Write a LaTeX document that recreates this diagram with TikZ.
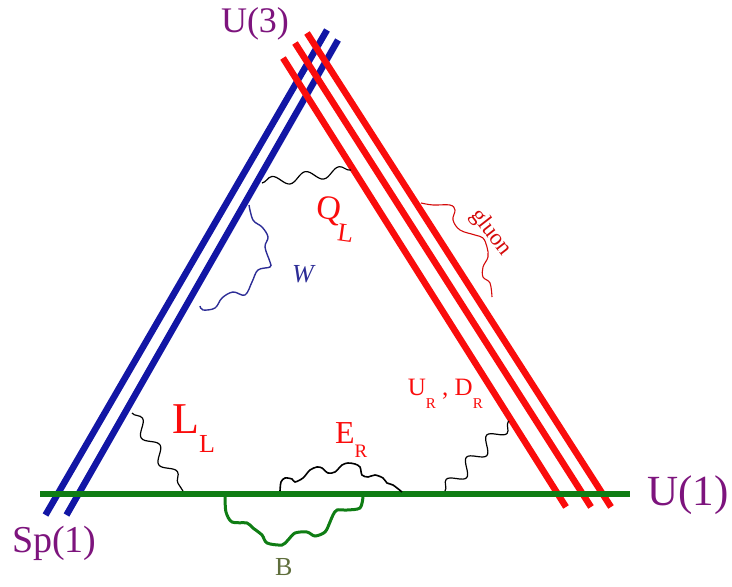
\documentclass[tikz,border=0pt]{standalone}
\usepackage{fontspec}
\setmainfont{Liberation Serif}
\usetikzlibrary{decorations.pathmorphing, calc}
\definecolor{braneblue}{RGB}{18, 22, 165}
\definecolor{branered}{RGB}{250, 12, 12}
\definecolor{branegreen}{RGB}{15, 125, 20}
\definecolor{grouppurple}{RGB}{125, 20, 125}
\definecolor{bolive}{RGB}{95, 110, 60}
\definecolor{wblue}{RGB}{45, 45, 150}
\newcommand{\fs}[1]{\fontsize{#1}{#1}\selectfont}
\newcommand{\lowsub}[3]{\raisebox{-#1pt}{\fs{#2}#3}}

\begin{document}
\begin{tikzpicture}[x=1pt, y=-1pt,
    brane/.style={line width=6.5pt},
    string/.style={black, line width=1.2pt, decorate,
      decoration={snake, amplitude=5pt, segment length=34pt}},
    lab/.style={inner sep=0pt}]
  \useasboundingbox (0,0) rectangle (732,587);
  % brane ends
  \coordinate (b1s) at (45.5,515); \coordinate (b1e) at (327,30);
  \coordinate (b2s) at (66.5,515); \coordinate (b2e) at (338,40);
  \coordinate (r1s) at (283,58);   \coordinate (r1e) at (566,507);
  \coordinate (r2s) at (295,43);   \coordinate (r2e) at (591,507);
  \coordinate (r3s) at (307,33);   \coordinate (r3e) at (611,507);
  \coordinate (g1) at (40,494);    \coordinate (g2) at (630,494);
  % string ends
  \coordinate (qa) at (262,183);   \coordinate (qb) at (351,170);
  \coordinate (la) at (132,413);   \coordinate (lb) at (183,491);
  \coordinate (ua) at (445,491);   \coordinate (ub) at (509,421);
  % branes
  \draw[brane, braneblue] (b1s) -- (b1e);
  \draw[brane, braneblue] (b2s) -- (b2e);
  \draw[brane, branered] (r1s) -- (r1e);
  \draw[brane, branered] (r2s) -- (r2e);
  \draw[brane, branered] (r3s) -- (r3e);
  \draw[brane, branegreen] (g1) -- (g2);
  % strings
  \draw[string] (qa) -- (qb);
  \draw[string, decoration={snake, amplitude=6pt, segment length=32pt}] (la) -- (lb);
  \draw[string, decoration={snake, amplitude=7pt, segment length=30pt}] (ua) -- (ub);
  \draw[wblue, line width=1.4pt] plot[smooth, tension=0.6] coordinates {
    (249,205) (253,220) (262,227) (268,237) (265,247) (270,262) (270,267)
    (258,270) (252,282) (245,295) (233,292) (222,298) (215,308) (203,310) (200,306)};
  \draw[branered!85!black, line width=1.1pt] plot[smooth, tension=0.6] coordinates {
    (421,203) (433,205) (450,205) (455,210) (453,220) (460,230) (475,235)
    (483,238) (487,247) (488,257) (483,267) (483,277) (490,283) (492,297)};
  \draw[black, line width=1.6pt] plot[smooth, tension=0.5] coordinates {
    (280,491) (281,482) (285,478) (292,479) (295,482) (303,478) (310,470)
    (317,467) (322,468) (328,473) (335,472) (342,465) (348,463) (355,464)
    (360,467) (362,475) (368,477) (375,475) (383,478) (387,483) (393,485) (402,492)};
  \draw[branegreen, line width=3pt] plot[smooth, tension=0.5] coordinates {
    (225,497) (226,512) (232,522) (247,523) (253,528) (262,535) (267,543)
    (282,545) (288,540) (295,533) (307,532) (315,536) (325,532) (330,522)
    (333,515) (337,510) (347,510) (360,508) (363,497)};
  % labels
  \node[lab, grouppurple, font=\fs{36}, anchor=base] (u3) at (255,32) {U(3)};
  \node[lab, grouppurple, font=\fs{38}, anchor=base west] (sp1) at (12,552) {Sp(1)};
  \node[lab, grouppurple, font=\fs{43}, anchor=base west] (u1) at (647,505) {U(1)};
  \node[lab, branered, font=\fs{34}, anchor=base west, rotate=-8] (ql) at (315,217) {Q\lowsub{20}{26}{L}};
  \node[lab, branered, font=\fs{44}, anchor=base west] (ll) at (172,433) {L\lowsub{19}{26}{L}};
  \node[lab, branered, font=\fs{32}, anchor=base west] (er) at (335,443) {E\lowsub{14}{19}{R}};
  \node[lab, branered, font=\fs{25}, anchor=base east] (udr) at (483,395) {U\lowsub{13}{15}{R} , D\lowsub{13}{15}{R}};
  \node[lab, wblue, font=\fs{26}\itshape, anchor=base west] (w) at (292,282) {W};
  \node[lab, branered!85!black, font=\fs{23}, rotate=-52] (gl) at (491,233) {gluon};
  \node[lab, bolive, font=\fs{26}, anchor=base west] (b) at (275,575) {B};
\end{tikzpicture}
\end{document}
